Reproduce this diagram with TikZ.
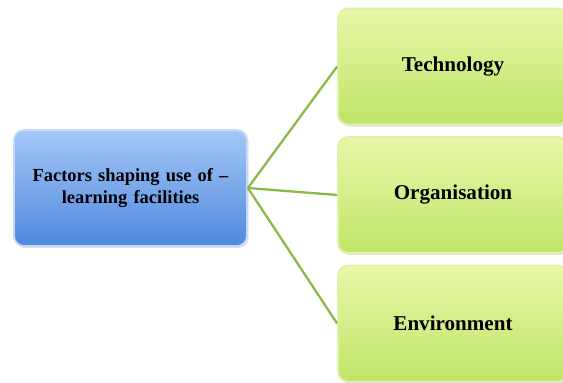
\documentclass[tikz,border=0pt]{standalone}
\usepackage{fontspec}
\setmainfont{Liberation Serif}
\usepackage{tikz}
\usepackage{xcolor}
\usetikzlibrary{shapes,arrows,positioning,trees,shadows}
\definecolor{factorTop}{RGB}{164, 200, 247}
\definecolor{factorBottom}{RGB}{80, 136, 222}
\definecolor{factorEdge}{RGB}{196, 218, 250}
\definecolor{leafTop}{RGB}{232, 248, 168}
\definecolor{leafBottom}{RGB}{192, 228, 104}
\definecolor{leafEdge}{RGB}{222, 242, 168}
\definecolor{branch}{RGB}{140, 184, 72}
\tikzstyle{branchline} = [
    line width=1.3pt,
    draw=branch
]
\tikzstyle{factor} = [
    rectangle,
    rounded corners=2mm,
    minimum width=4.66cm,
    minimum height=2.32cm,
    text width=4.2cm,
    align=center,
    draw=factorEdge,
    line width=1pt,
    top color=factorTop,
    bottom color=factorBottom,
    drop shadow={opacity=0.25, shadow xshift=0.03cm, shadow yshift=-0.04cm},
    font=\fontsize{10.5}{12}\selectfont\bfseries
]
\tikzstyle{leaf} = [
    rectangle,
    rounded corners=2mm,
    minimum width=4.6cm,
    minimum height=2.32cm,
    text centered,
    draw=leafEdge,
    line width=1pt,
    top color=leafTop,
    bottom color=leafBottom,
    drop shadow={opacity=0.25, shadow xshift=0.03cm, shadow yshift=-0.04cm},
    font=\fontsize{12}{14}\selectfont\bfseries
]

\begin{document}
\begin{tikzpicture}[
                grow'=right,
                sibling distance=2.57cm,
                level distance=6.45cm,
                every child node/.style={yshift=-0.14cm},
                edge from parent/.style={branchline},
                edge from parent path={(\tikzparentnode.east) -- (\tikzchildnode.west)}
            ]
                \useasboundingbox (0,0) rectangle (11.26,-7.64);
                \node[factor] (factors) at (2.61,-3.76) {Factors shaping use of --\\learning facilities}
                    child {node[leaf] (technology) {Technology}}
                    child {node[leaf] (organisation) {Organisation}}
                    child {node[leaf] (environment) {Environment}};
            \end{tikzpicture}
\end{document}
